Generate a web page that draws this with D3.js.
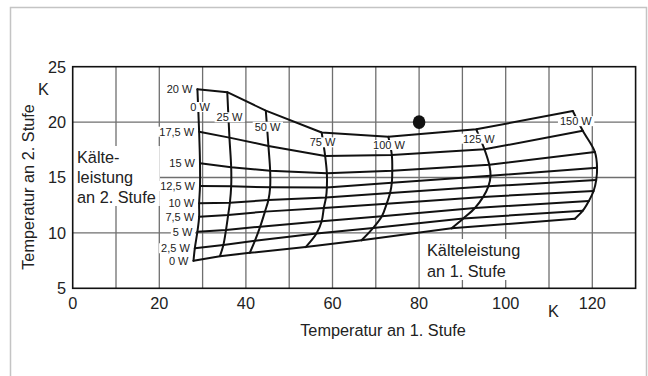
<!DOCTYPE html>
<html><head><meta charset="utf-8">
<script src="https://cdn.jsdelivr.net/npm/d3@7"></script>
<style>
body{margin:0;background:#fff}
svg{display:block;font-family:"Liberation Sans",Arial,Helvetica,sans-serif}
</style>
</head><body>
<svg id="chart" width="648" height="376"></svg>
<script>
// ---- data ----
const stage1Labels = ["0 W","25 W","50 W","75 W","100 W","125 W","150 W"];
const stage2Labels = ["0 W","2,5 W","5 W","7,5 W","10 W","12,5 W","15 W","17,5 W","20 W"];
// temperature at stage 1 (K) at each intersection, one row per stage-2 power, columns = stage-1 power
const tempStage1 = [
  [27.9, 34.0, 40.9, 53.8, 66.7, 87.5, 116.0],
  [28.2, 34.8, 42.1, 56.3, 69.4, 90.2, 117.8],
  [28.8, 35.4, 43.3, 57.5, 71.4, 92.9, 119.2],
  [29.2, 35.9, 44.4, 58.0, 72.5, 94.8, 120.3],
  [29.2, 36.3, 45.2, 58.5, 73.3, 96.0, 120.9],
  [29.4, 36.6, 45.6, 58.7, 73.7, 96.5, 121.1],
  [29.4, 36.6, 45.6, 58.7, 73.8, 96.2, 120.6],
  [29.2, 36.2, 45.2, 58.3, 73.7, 95.1, 117.8],
  [28.8, 35.7, 44.6, 57.5, 72.9, 93.2, 115.5]
];
// temperature at stage 2 (K)
const tempStage2 = [
  [7.49, 7.90, 8.20, 8.72, 9.33, 10.41, 11.28],
  [8.61, 8.91, 9.30, 9.95, 10.45, 11.30, 12.00],
  [10.11, 10.26, 10.56, 11.05, 11.50, 12.25, 12.88],
  [11.46, 11.62, 11.92, 12.25, 12.62, 13.25, 13.78],
  [12.67, 12.72, 12.97, 13.20, 13.60, 14.20, 14.77],
  [14.23, 14.20, 14.12, 14.10, 14.52, 15.15, 15.89],
  [16.28, 15.92, 15.61, 15.38, 15.60, 16.15, 17.30],
  [19.13, 18.60, 17.85, 16.95, 17.03, 17.54, 19.22],
  [22.96, 22.70, 21.03, 19.06, 18.68, 19.35, 21.00]
];
// where the stage-1 power labels sit (data units)
const stage1LabelT1 = [29.4, 36.2, 45.0, 57.7, 73.05, 93.8, 116.2];
const stage1LabelT2 = [21.36, 20.43, 19.58, 18.17, 17.93, 18.5, 20.08];
const xTicks = [0, 20, 40, 60, 80, 100, 120];
const yTicks = [5, 10, 15, 20, 25];
const xGrid = [10, 20, 30, 40, 50, 60, 70, 80, 90, 100, 110, 120];
const yGrid = [10, 15, 20];
const operatingPoint = [80, 20];
const xTitle = "Temperatur an 1. Stufe";
const yTitle = "Temperatur an 2. Stufe";
const stage2Note = ["Kälte-", "leistung", "an 2. Stufe"];
const stage1Note = ["Kälteleistung", "an 1. Stufe"];

// ---- drawing ----
const svg = d3.select("#chart");
const x = d3.scaleLinear().domain([0, 130]).range([72.7, 635.6]);
const y = d3.scaleLinear().domain([5, 25]).range([288.3, 66.7]);

// outer light frame
svg.append("path").attr("d", "M10.5,380 V7.5 H646.5 V380")
  .attr("fill", "none").attr("stroke", "#c4c4c4").attr("stroke-width", 1.5);

// grid
const grid = svg.append("g").attr("stroke", "#6f6f6f").attr("stroke-width", 1.3);
grid.selectAll("line.v").data(xGrid).join("line")
  .attr("x1", d => x(d)).attr("x2", d => x(d)).attr("y1", y(5)).attr("y2", y(25));
grid.selectAll("line.h").data(yGrid).join("line")
  .attr("x1", x(0)).attr("x2", x(130)).attr("y1", d => y(d)).attr("y2", d => y(d));

// text boxes inside plot (white background hides grid)
function noteBlock(lines, x0, y0, dy) {
  const g = svg.append("g");
  const r = g.append("rect").attr("fill", "#fff");
  const t = g.append("text").attr("font-size", 16.3).attr("fill", "#222");
  lines.forEach((s, i) => t.append("tspan").attr("x", x0).attr("y", y0 + i * dy).text(s));
  const b = t.node().getBBox();
  r.attr("x", b.x - 4).attr("y", b.y - 2).attr("width", b.width + 8).attr("height", b.height + 2);
  return g;
}
noteBlock(stage2Note, 77, 163, 20);
noteBlock(stage1Note, 427, 256, 21);

// plot frame
svg.append("rect").attr("x", x(0)).attr("y", y(25)).attr("width", x(130) - x(0)).attr("height", y(5) - y(25))
  .attr("fill", "none").attr("stroke", "#111").attr("stroke-width", 1.6);

// curves
const curves = svg.append("g").attr("fill", "none").attr("stroke", "#111").attr("stroke-width", 2)
  .attr("stroke-linejoin", "round").attr("stroke-linecap", "round");
const rowLine = d3.line().x(d => x(d[0])).y(d => y(d[1])).curve(d3.curveLinear);
const colLine = d3.line().x(d => x(d[0])).y(d => y(d[1])).curve(d3.curveCatmullRom.alpha(0.5));
tempStage1.forEach((row, i) => {
  curves.append("path").attr("d", rowLine(row.map((v, j) => [v, tempStage2[i][j]])));
});
stage1Labels.forEach((_, j) => {
  curves.append("path").attr("d", colLine(tempStage1.map((row, i) => [row[j], tempStage2[i][j]])));
});

// operating point
svg.append("ellipse").attr("cx", x(operatingPoint[0])).attr("cy", y(operatingPoint[1]))
  .attr("rx", 6.3).attr("ry", 6.8).attr("fill", "#111");

// small labels with white background
function smallLabel(txt, px, py, anchor) {
  const g = svg.append("g");
  const r = g.append("rect").attr("fill", "#fff");
  const t = g.append("text").attr("x", px).attr("y", py).attr("dy", "0.36em")
    .attr("text-anchor", anchor).attr("font-size", 11).attr("fill", "#222").text(txt);
  const b = t.node().getBBox();
  r.attr("x", b.x - 2).attr("y", b.y + 1).attr("width", b.width + 4).attr("height", b.height - 2);
}
stage2Labels.forEach((s, i) => smallLabel(s, x(tempStage1[i][0]) - 5, y(tempStage2[i][0]), "end"));
stage1Labels.forEach((s, j) => smallLabel(s, x(stage1LabelT1[j]), y(stage1LabelT2[j]), "middle"));

// ticks
svg.append("g").selectAll("text").data(xTicks).join("text")
  .attr("x", d => x(d)).attr("y", 309).attr("text-anchor", "middle")
  .attr("font-size", 16.3).attr("fill", "#222").text(d => d);
svg.append("g").selectAll("text").data(yTicks).join("text")
  .attr("x", 66).attr("y", d => y(d)).attr("dy", "0.36em").attr("text-anchor", "end")
  .attr("font-size", 16.3).attr("fill", "#222").text(d => d);

// units
svg.append("text").attr("x", 43.5).attr("y", 95).attr("text-anchor", "middle")
  .attr("font-size", 16.3).attr("fill", "#222").text("K");
svg.append("text").attr("x", 553.5).attr("y", 317).attr("text-anchor", "middle")
  .attr("font-size", 16.3).attr("fill", "#222").text("K");

// titles
svg.append("text").attr("x", 383).attr("y", 336).attr("text-anchor", "middle")
  .attr("font-size", 16.3).attr("fill", "#222").text(xTitle);
svg.append("text").attr("transform", "translate(33.5,187) rotate(-90)").attr("text-anchor", "middle")
  .attr("font-size", 16.3).attr("fill", "#222").text(yTitle);
</script>
</body></html>
